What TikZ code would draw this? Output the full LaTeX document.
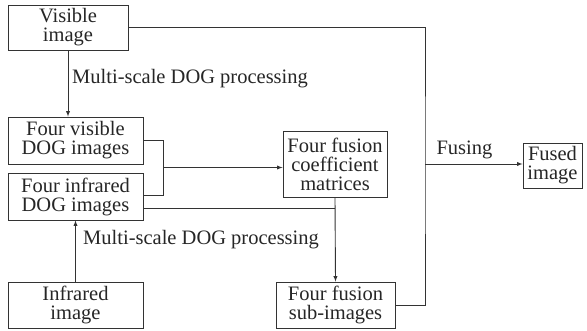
\documentclass[tikz,border=0pt]{standalone}
\usepackage{fontspec}
\setmainfont{Liberation Serif}
\usepackage{tikz}
\usetikzlibrary{arrows}

\begin{document}
\begin{tikzpicture}[x=1pt,y=-1pt,
  blk/.style={draw=black!80, line width=0.9pt, align=center, inner sep=0pt,
    font=\fontsize{20.5}{19}\selectfont, text=black!85},
  lbl/.style={font=\fontsize{20.5}{19}\selectfont, text=black!85, inner sep=0pt},
  ln/.style={draw=black!80, line width=0.9pt},
  >=latex]

\useasboundingbox (0,0) rectangle (587,331);

\node[blk, minimum width=120pt, minimum height=45pt] (vis) at (68,27.5) {Visible\\image};
\node[blk, minimum width=135pt, minimum height=47pt] (visdog) at (75.5,140.5) {Four visible\\DOG images};
\node[blk, minimum width=135pt, minimum height=47pt] (irdog) at (75.5,196.5) {Four infrared\\DOG images};
\node[blk, minimum width=135pt, minimum height=46pt] (ir) at (75.5,305) {Infrared\\image};
\node[blk, minimum width=104pt, minimum height=66pt] (coef) at (335,164) {Four fusion\\coefficient\\matrices};
\node[blk, minimum width=119pt, minimum height=46pt] (sub) at (335.5,305) {Four fusion\\sub-images};
\node[blk, minimum width=59pt, minimum height=45pt] (fused) at (552.5,165.5) {Fused\\image};

\coordinate (j) at (163,167.5);
\coordinate (fj) at (425,164);

\draw[ln,->] (vis.south) -- (vis.south |- visdog.north);
\draw[ln,->] (ir.north) -- (irdog.south);

\draw[ln] (visdog.east) -| (j);
\draw[ln] ([yshift=1.5pt]irdog.east) -| (j);
\draw[ln,->] (j) -- (j -| coef.west);

\draw[ln] ([yshift=-11.5pt]irdog.east) -- ([yshift=-11.5pt]irdog.east -| coef.south);
\draw[ln,->] (coef.south) -- (sub.north);

\draw[ln] (vis.east) -| (fj) |- (sub.east);
\draw[ln,->] (fj) -- (fj -| fused.west);

\node[lbl, anchor=west] (dog1) at (72,79) {Multi-scale DOG processing};
\node[lbl, anchor=west] (dog2) at (83,240) {Multi-scale DOG processing};
\node[lbl] (fus) at (464.5,150) {Fusing};
\end{tikzpicture}
\end{document}
